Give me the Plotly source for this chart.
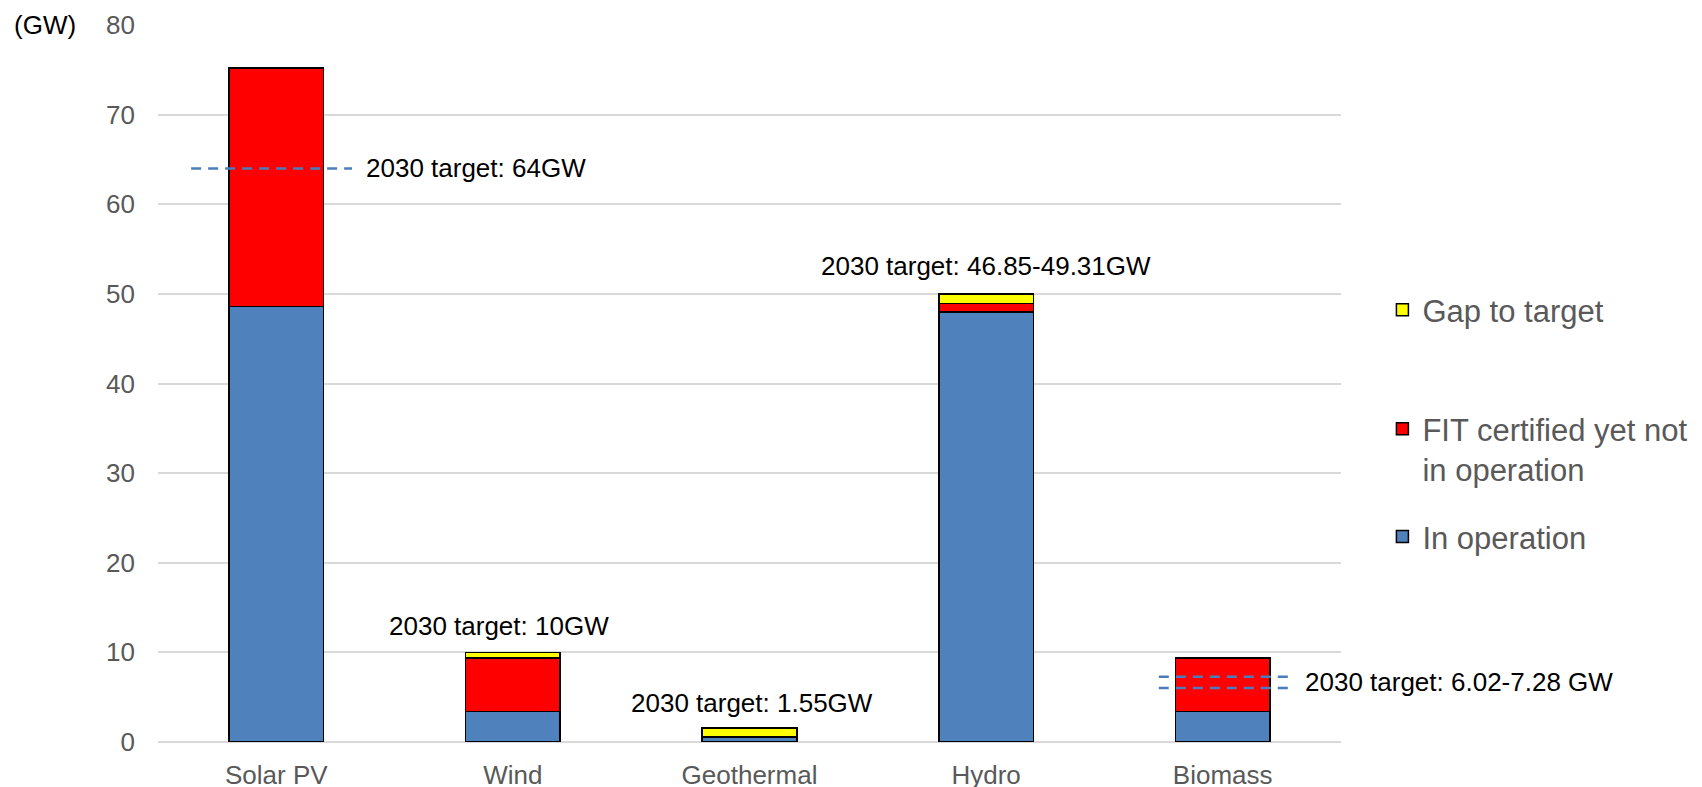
import plotly.graph_objects as go

# Renewable capacity by source (GW)
categories = ["Solar PV", "Wind", "Geothermal", "Hydro", "Biomass"]
in_operation = [48.6, 3.4, 0.5, 48.0, 3.4]
fit_not_operating = [26.6, 6.0, 0.05, 0.95, 6.0]
gap_to_target = [0.0, 0.6, 1.0, 1.05, 0.0]

# 2030 targets drawn as dashed reference lines
solar_target = 64.0
biomass_target_low = 6.02
biomass_target_high = 7.28

y_ticks = [0, 10, 20, 30, 40, 50, 60, 70, 80]

FONT = "Liberation Sans, Arial, sans-serif"
GREY = "#595959"

fig = go.Figure()

series = [
    ("In operation", in_operation, "#4f81bd", "legend3"),
    ("FIT certified yet not<br>in operation", fit_not_operating, "#ff0000", "legend2"),
    ("Gap to target", gap_to_target, "#ffff00", "legend"),
]
for name, vals, color, leg in series:
    fig.add_trace(go.Bar(
        x=categories, y=vals, name=name,
        marker=dict(color=color, line=dict(color="black", width=1.5)),
        legend=leg, showlegend=True,
    ))

# dashed target lines (category index positions on the x axis)
dash_style = dict(color="#4a7ebb", width=2.5, dash="10px,7px")
fig.add_shape(type="line", xref="x", yref="y", x0=-0.36, x1=0.32,
              y0=solar_target, y1=solar_target, line=dash_style)
for v in (biomass_target_low, biomass_target_high):
    fig.add_shape(type="line", xref="x", yref="y", x0=3.73, x1=4.29,
                  y0=v, y1=v, line=dash_style)

ann_font = dict(family=FONT, size=26, color="black")
fig.add_annotation(x=0.37, y=solar_target, xref="x", yref="y", text="2030 target: 64GW",
                   showarrow=False, xanchor="left", yanchor="middle", font=ann_font)
fig.add_annotation(x=4.34, y=(biomass_target_low + biomass_target_high) / 2, xref="x", yref="y",
                   text="2030 target: 6.02-7.28 GW",
                   showarrow=False, xanchor="left", yanchor="middle", font=ann_font)
fig.add_annotation(x=0.94, y=12.9, xref="x", yref="y", text="2030 target: 10GW",
                   showarrow=False, xanchor="center", yanchor="middle", font=ann_font)
fig.add_annotation(x=2.01, y=4.35, xref="x", yref="y", text="2030 target: 1.55GW",
                   showarrow=False, xanchor="center", yanchor="middle", font=ann_font)
fig.add_annotation(x=3.0, y=53.1, xref="x", yref="y", text="2030 target: 46.85-49.31GW",
                   showarrow=False, xanchor="center", yanchor="middle", font=ann_font)

# unit label
fig.add_annotation(x=-0.123, y=1.0, xref="paper", yref="paper", text="(GW)",
                   showarrow=False, xanchor="left", yanchor="middle",
                   font=dict(family=FONT, size=26, color="black"))

leg_common = dict(font=dict(family=FONT, size=31, color=GREY), bgcolor="rgba(0,0,0,0)",
                  xref="paper", yref="paper", valign="top", visible=True)

fig.update_layout(
    width=1702, height=787,
    margin=dict(l=158, r=361, t=25, b=45, autoexpand=False),
    barmode="stack", bargap=0.6,
    showlegend=True,
    plot_bgcolor="white", paper_bgcolor="white",
    font=dict(family=FONT, size=26, color=GREY),
    xaxis=dict(range=[-0.5, 4.5], showgrid=False, showline=False, ticks="",
               automargin=False,
               tickfont=dict(family=FONT, size=26, color=GREY),
               ticklabelstandoff=15),
    yaxis=dict(range=[0, 80], tickvals=y_ticks, showgrid=True, gridcolor="#d9d9d9",
               gridwidth=2, zeroline=True, zerolinecolor="#d9d9d9", zerolinewidth=2,
               showline=False, ticks="", ticklabelstandoff=22, automargin=False,
               tickfont=dict(family=FONT, size=26, color=GREY)),
    legend=dict(x=1.035, y=0.6025, xanchor="left", yanchor="middle", **leg_common),
    legend2=dict(x=1.035, y=0.474, xanchor="left", yanchor="top", **leg_common),
    legend3=dict(x=1.035, y=0.286, xanchor="left", yanchor="middle", **leg_common),
)

fig.write_html("out.html")
